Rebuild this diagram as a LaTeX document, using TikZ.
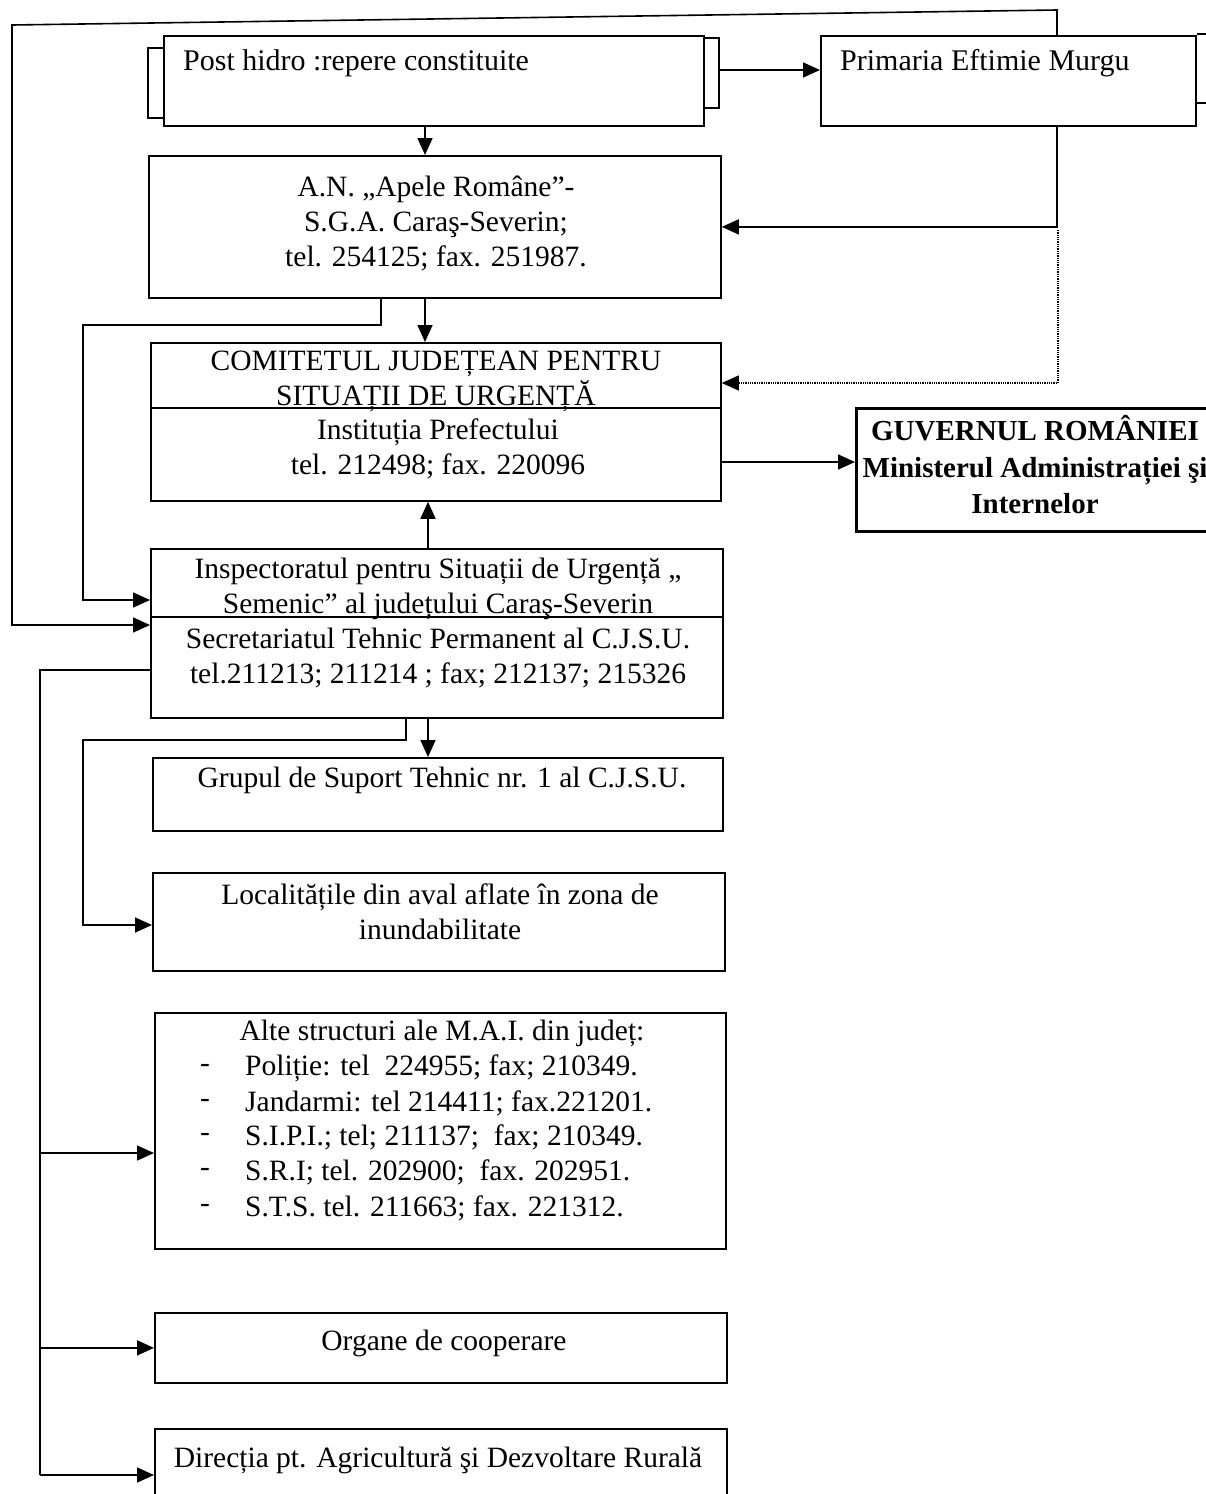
\documentclass[tikz,border=0pt]{standalone}
\usepackage{fontspec}
\setmainfont{Liberation Serif}
\usetikzlibrary{arrows.meta,calc}
\begin{document}
\begin{tikzpicture}[x=1pt,y=-1pt,
  box/.style={draw, line width=1.8pt, inner sep=0pt, anchor=north west},
  ln/.style={line width=1.6pt},
  arr/.style={ln, -{Triangle[length=17pt,width=15pt]}},
  dotln/.style={line width=1.3pt, densely dotted},
  txt/.style={font=\fontsize{29.5}{35}\selectfont, align=center, inner sep=0pt},
  btxt/.style={font=\fontsize{29}{36.5}\selectfont\bfseries, align=center, inner sep=0pt},
  dtxt/.style={font=\fontsize{30}{34}\selectfont, inner sep=0pt, anchor=west}
]
\useasboundingbox (0,0) rectangle (1205,1494);

% boxes
\node[box, minimum width=540pt, minimum height=90pt] (post) at (163,35) {};
\node[box, minimum width=375pt, minimum height=90pt] (prim) at (820,35) {};
\node[box, minimum width=572pt, minimum height=142pt] (an) at (148,155) {};
\node[box, minimum width=570pt, minimum height=158pt] (com) at (150,342) {};
\node[box, line width=2.6pt, minimum width=380pt, minimum height=123pt] (guv) at (855,407) {};
\node[box, minimum width=572pt, minimum height=169pt] (insp) at (150,548) {};
\node[box, minimum width=570pt, minimum height=73pt] (grup) at (152,757) {};
\node[box, minimum width=572pt, minimum height=98pt] (loc) at (152,872) {};
\node[box, minimum width=571pt, minimum height=236pt] (alte) at (154,1012) {};
\node[box, minimum width=572pt, minimum height=70pt] (org) at (154,1312) {};
\node[box, minimum width=572pt, minimum height=90pt] (dir) at (154,1428) {};

% dividers
\draw[ln] ($(com.north west)+(0,66)$) -- ($(com.north east)+(0,66)$);
\draw[ln] ($(insp.north west)+(0,69)$) -- ($(insp.north east)+(0,69)$);

% texts
\node[dtxt] (tpost) at (183,63) {Post hidro :repere constituite};
\node[dtxt] (tprim) at (840,63) {Primaria Eftimie Murgu};
\node[txt] (tan) at (436,224) {A.N. „Apele Române”-\\S.G.A. Caraş-Severin;\\tel. 254125; fax. 251987.};
\node[txt] (tcom1) at (436,381) {COMITETUL JUDEȚEAN PENTRU\\SITUAȚII DE URGENȚĂ};
\node[txt] (tcom2) at (438,449) {Instituția Prefectului\\tel. 212498; fax. 220096};
\node[btxt] (tguv) at (1035,465) {GUVERNUL ROMÂNIEI\\Ministerul Administrației şi\\Internelor};
\node[txt] (tins1) at (438,589) {Inspectoratul pentru Situații de Urgență „\\Semenic” al județului Caraş-Severin};
\node[txt] (tins2) at (438,658) {Secretariatul Tehnic Permanent al C.J.S.U.\\tel.211213; 211214 ; fax; 212137; 215326};
\node[txt] (tgrup) at (442,780) {Grupul de Suport Tehnic nr. 1 al C.J.S.U.};
\node[txt] (tloc) at (440,912) {Localitățile din aval aflate în zona de\\inundabilitate};
\node[txt] (talte) at (442,1033) {Alte structuri ale M.A.I. din județ:};
\foreach \yy/\tt [count=\i] in {1068/{Poliție: tel~~224955; fax; 210349.},
  1103/{Jandarmi: tel 214411; fax.221201.},
  1137/{S.I.P.I.; tel; 211137;~~fax; 210349.},
  1172/{S.R.I; tel. 202900;~~fax. 202951.},
  1208/{S.T.S. tel. 211663; fax. 221312.}}{
  \node[txt, anchor=center] (dash\i) at (205,\yy) {-};
  \node[txt, anchor=west] (item\i) at (245,\yy) {\tt};
}
\node[txt] (torg) at (444,1343) {Organe de cooperare};
\node[txt] (tdir) at (438,1460) {Direcția pt. Agricultură şi Dezvoltare Rurală};

% helper coordinates
\coordinate (tr) at (1057,10);
\coordinate (tl) at (12,25);
\coordinate (xa) at (425,0);
\coordinate (xb) at (381,0);
\coordinate (xc) at (428,0);
\coordinate (xd) at (406,0);
\coordinate (xe) at (40,0);
\coordinate (k1) at (83,325);
\coordinate (k2) at (83,740);
\coordinate (cg) at ($(com.north east)+(0,120)$);
\coordinate (iw1) at ($(insp.north west)+(0,52)$);
\coordinate (iw2) at ($(insp.north west)+(0,77)$);
\coordinate (iw3) at ($(insp.north west)+(0,122)$);
\coordinate (lw) at ($(loc.north west)+(0,53)$);
\coordinate (aw) at ($(alte.north west)+(0,141)$);
\coordinate (dw) at ($(dir.north west)+(0,47)$);
\coordinate (ce) at ($(com.north east)+(0,41)$);

% brackets behind Post hidro
\draw[ln] ($(post.north west)+(0,13)$) -- ++(-15,0) -- ++(0,70) -- ++(15,0);
\draw[ln] ($(post.north east)+(0,3)$) -- ++(14,0) -- ++(0,70) -- ++(-14,0);
% stubs right of Primaria
\draw[ln] ($(prim.north east)+(0,-1)$) -- ++(15,0);
\draw[ln] ($(prim.north east)+(0,68)$) -- ++(15,0);

% connectors
\draw[arr] ($(post.north east)+(14,35)$) -- ($(prim.north west)+(0,35)$);
\draw[arr] (prim.north -| tr) -- (tr) -- (tl) -- (tl |- iw2) -- (iw2);
\draw[arr] (prim.south -| tr) |- (an.east);
\draw[arr, dotln] ($(an.east -| tr)+(1,3)$) |- (ce);
\draw[arr] (post.south -| xa) -- (an.north -| xa);
\draw[arr] (an.south -| xa) -- (com.north -| xa);
\draw[arr] (an.south -| xb) |- (k1) |- (iw1);
\draw[arr] (insp.north -| xc) -- (com.south -| xc);
\draw[arr] (cg) -- (cg -| guv.west);
\draw[arr] (insp.south -| xc) -- (grup.north -| xc);
\draw[arr] (insp.south -| xd) |- (k2) |- (lw);
\draw[ln] (iw3) -| (xe |- dw);
\draw[arr] (xe |- aw) -- (aw);
\draw[arr] (xe |- org.west) -- (org.west);
\draw[arr] (xe |- dw) -- (dw);
\end{tikzpicture}
\end{document}
